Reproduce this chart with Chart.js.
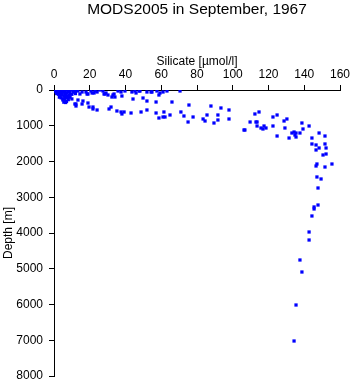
<!DOCTYPE html>
<html>
<head>
<meta charset="utf-8">
<script src="https://cdn.jsdelivr.net/npm/chart.js@4.4.0/dist/chart.umd.min.js"></script>
<style>
  body { margin: 0; background: #fff; }
  canvas { display: block; }
</style>
</head>
<body>
<canvas id="profileChart" width="351" height="384"></canvas>
<script>
// Chart text
const chartTitle = 'MODS2005 in September, 1967';
const xTitle = 'Silicate [\u00b5mol/l]';
const yTitle = 'Depth [m]';

// Axis ranges / ticks
const xTicks = [0, 20, 40, 60, 80, 100, 120, 140, 160];
const yTicks = [0, 1000, 2000, 3000, 4000, 5000, 6000, 7000, 8000];

const silicate = [
  0.5, 1, 1.5, 2, 3, 4, 5, 6, 7, 8, 9, 10, 11, 1, 2, 3, 4, 5, 6, 7, 8, 9,
  1.5, 2.5, 3.5, 4.5, 5.5, 6.5, 7.5, 8.5, 3, 4, 5, 6, 7, 5, 6, 7, 6.5, 5.5,
  8, 9, 10, 11, 12, 13, 12, 10,
  13.4, 14.5, 15.7, 17.9, 18.5, 19, 20.7, 21.3, 22.4, 22.9, 24.1, 25.7, 27.4,
  28.5, 29.1, 30.2, 32.4, 34.1, 35.8, 37.5, 39.7, 43.6, 45.3, 45.9, 47.6, 48.1,
  52, 54.3, 54.8, 57.6, 59.3, 61, 63.2, 70.5, 28, 33, 33.6, 38, 44.2, 49.8, 58.7,
  11.7, 12.3, 12.3, 13.4, 15.7, 16.2, 19, 19.6, 21.8, 21.8, 24.1, 30.8, 31.9,
  35.2, 37.5, 38, 39.2, 43.1, 48.7, 52, 52, 57.1, 57.1, 58.7, 61, 61.5, 62.1,
  64.9, 66, 71, 72.7, 75, 75.5, 77.8, 83.4, 84.5, 85.6, 87.8, 89.5, 91.7, 91.7,
  93.4, 97.9, 97.9,
  106.3, 106.8, 109.7, 112.4, 114.7, 113, 113.6, 113.6, 115.8, 116.9, 117.5,
  118.6, 122.5, 124.8, 130.3, 128.7, 122.5, 129.2, 124.8, 131.5, 133.1, 134.3,
  135.4, 137.6, 135.4, 134.8, 138.7, 142.7, 139.3, 144.3, 148.3, 151.6, 144.3,
  146.6, 148.3, 151.6, 152.2, 146.6, 150.5, 152.2, 147.1, 146.6, 151.6, 155.5,
  147.1, 149.4, 147.7, 145.5, 147.7, 145.5, 144.3, 142.7, 142.7, 137.6, 138.7,
  135.4, 134.3
];
const depth = [
  0, 10, 20, 5, 0, 10, 0, 20, 5, 0, 10, 0, 30, 50, 60, 40, 80, 50, 70, 90, 60, 100,
  100, 120, 150, 130, 160, 140, 180, 150, 200, 220, 250, 230, 210, 280, 300, 320, 350, 340,
  270, 200, 120, 60, 20, 10, 100, 250,
  28, 112, 56, 56, 112, 112, 28, 84, 84, 28, 56, 0, 28,
  112, 84, 140, 196, 196, 28, 56, 28, 56, 28, 84, 28, 28,
  56, 56, 56, 28, 84, 56, 28, 28, 112, 140, 112, 168, 252, 224, 140,
  392, 448, 392, 280, 392, 308, 364, 476, 476, 531, 559, 531, 476,
  587, 615, 671, 615, 643, 615, 308, 559, 336, 643, 783, 755, 615, 755,
  699, 336, 615, 727, 895, 420, 755, 811, 867, 699, 448, 923, 699, 839,
  503, 559, 811,
  1119, 1119, 895, 671, 615, 895, 895, 1007, 1063, 1091, 1007,
  1063, 755, 699, 811, 867, 1007, 1063, 1287, 1343, 1203, 1175,
  1203, 1203, 1315, 1259, 923, 1007, 1091, 1343, 1203, 1287, 1510,
  1538, 1622, 1510, 1622, 1678, 1818, 1790, 2070, 2126, 2154, 2070,
  2433, 2489, 2741, 3272, 3217, 3328, 3524, 3972, 4196, 4755, 5091,
  6014, 7021
];

Chart.defaults.font.family = '"Liberation Sans", Arial, Helvetica, sans-serif';
Chart.defaults.font.size = 12;
Chart.defaults.color = '#000';

// Title drawn over the centre of the plot area
const centerTitle = {
  id: 'centerTitle',
  afterDraw(chart) {
    const { ctx, chartArea } = chart;
    ctx.save();
    ctx.font = '15.5px "Liberation Sans", Arial, sans-serif';
    ctx.fillStyle = '#000';
    ctx.textAlign = 'center';
    ctx.textBaseline = 'alphabetic';
    ctx.fillText(chartTitle, (chartArea.left + chartArea.right) / 2, 14);
    ctx.restore();
  }
};

const points = silicate.map((v, i) => ({ x: v, y: depth[i] }));

let ctx = document.getElementById('profileChart').getContext('2d');
new Chart(ctx, {
  type: 'scatter',
  data: {
    datasets: [{
      data: points,
      pointStyle: 'rect',
      pointRadius: 2.3,
      pointHoverRadius: 2.3,
      backgroundColor: '#0000ff',
      borderColor: '#0000ff',
      borderWidth: 0
    }]
  },
  options: {
    responsive: false,
    animation: false,
    layout: { padding: { top: 48, left: 0, right: 11, bottom: 8 } },
    plugins: {
      legend: { display: false },
      tooltip: { enabled: false }
    },
    scales: {
      x: {
        type: 'linear',
        position: 'top',
        min: 0,
        max: 160,
        afterBuildTicks: (scale) => { scale.ticks = xTicks.map(v => ({ value: v })); },
        afterFit: (scale) => {
          scale.height = 42;
          scale.paddingLeft = 0;
          scale.paddingRight = 0;
        },
        ticks: { padding: 3, maxRotation: 0, callback: (v) => String(v) },
        grid: { drawOnChartArea: false, drawTicks: true, tickLength: 5, color: '#000' },
        border: { display: true, color: '#000', width: 1 },
        title: { display: true, text: xTitle, padding: { top: 6, bottom: 0 } }
      },
      y: {
        type: 'linear',
        reverse: true,
        min: 0,
        max: 8000,
        afterBuildTicks: (scale) => { scale.ticks = yTicks.map(v => ({ value: v })); },
        afterFit: (scale) => {
          scale.width = 54;
          scale.paddingTop = 0;
          scale.paddingBottom = 0;
        },
        ticks: { padding: 6, callback: (v) => String(v) },
        grid: { drawOnChartArea: false, drawTicks: true, tickLength: 5, color: '#000' },
        border: { display: true, color: '#000', width: 1 },
        title: { display: true, text: yTitle, padding: { top: 1, bottom: 0 } }
      }
    }
  },
  plugins: [centerTitle]
});
</script>
</body>
</html>
